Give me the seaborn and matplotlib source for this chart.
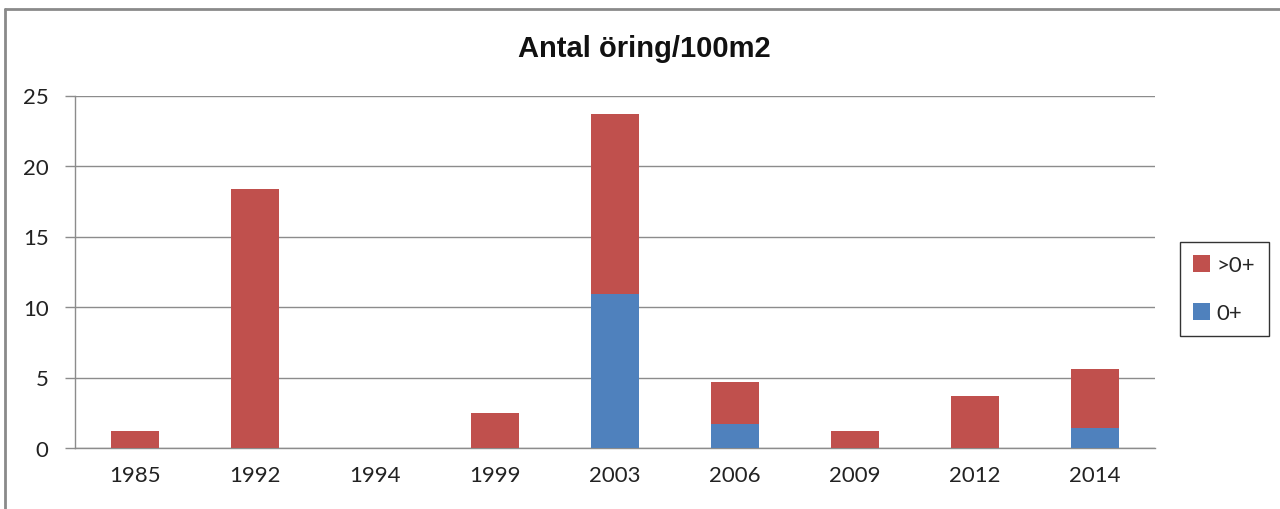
import matplotlib
matplotlib.use("Agg")
import matplotlib.pyplot as plt
import seaborn as sns
import pandas as pd
from matplotlib.patches import Patch
from matplotlib.lines import Line2D

years = ["1985", "1992", "1994", "1999", "2003", "2006", "2009", "2012", "2014"]
older = [1.2, 18.4, 0.0, 2.5, 12.77, 2.98, 1.2, 3.7, 4.18]   # >0+
young = [0.0, 0.0, 0.0, 0.0, 10.9, 1.68, 0.0, 0.0, 1.4]      # 0+
yticks = [0, 5, 10, 15, 20, 25]
title = "Antal öring/100m2"

RED = "#C0504D"
BLUE = "#4F81BD"
GRID = "#8C8C8C"

sns.set_theme(style="white")
plt.rcParams["font.family"] = ["Lato", "DejaVu Sans"]

df = pd.DataFrame({"year": years, "older": older, "young": young})
df["total"] = df["older"] + df["young"]

fig = plt.figure(figsize=(12.8, 5.1), dpi=100)
ax = fig.add_axes([75/1280, 1-449/510, (1155-75)/1280, (449-96.5)/510])

sns.barplot(data=df, x="year", y="total", color=RED, saturation=1, width=0.4, ax=ax, zorder=3)
sns.barplot(data=df, x="year", y="young", color=BLUE, saturation=1, width=0.4, ax=ax, zorder=4)
for p in ax.patches:
    p.set_edgecolor("none")

ax.set_ylim(0, 25)
ax.set_xlim(-0.5, len(years) - 0.5)
ax.set_yticks(yticks)
ax.set_yticklabels([str(v) for v in yticks], fontsize=16, color="#222222")
ax.set_xlabel("")
ax.set_ylabel("")
ax.yaxis.grid(True, color=GRID, linewidth=1.0, zorder=0)
ax.set_axisbelow(True)

for s in ["top", "right"]:
    ax.spines[s].set_visible(False)
for s in ["left", "bottom"]:
    ax.spines[s].set_color(GRID)
    ax.spines[s].set_linewidth(1.0)

ax.set_xticks(range(len(years)))
ax.set_xticklabels(years, fontsize=16, color="#222222")
ax.tick_params(axis="x", which="major", length=0, pad=12)
ax.set_xticks([i - 0.5 for i in range(len(years) + 1)], minor=True)
ax.tick_params(axis="x", which="minor", length=7, color=GRID, width=1.0, direction="out")
ax.tick_params(axis="y", which="major", length=7, color=GRID, width=1.0, direction="out", left=True, pad=12)

fig.text(644/1280, 1-49/510, title, ha="center", va="center", fontsize=21,
         fontweight="bold", family=["Liberation Sans", "DejaVu Sans"], color="#111111")

handles = [Patch(facecolor=RED, edgecolor="none"), Patch(facecolor=BLUE, edgecolor="none")]
leg = fig.legend(handles, [">0+", "0+"], loc="upper left",
                 bbox_to_anchor=(1180/1280, 1-243/510), frameon=True, fancybox=False,
                 fontsize=16, handlelength=0.75, handleheight=0.75, handletextpad=0.3,
                 labelspacing=1.25, borderpad=0.6, borderaxespad=0)
leg.get_frame().set_edgecolor("#000000")
leg.get_frame().set_linewidth(1.0)

# outer chart frame (partially cropped)
fig.add_artist(Line2D([5/1280, 5/1280], [0, 1-10/510], transform=fig.transFigure, color="#8A8A8A", linewidth=2))
fig.add_artist(Line2D([5/1280, 1], [1-10/510, 1-10/510], transform=fig.transFigure, color="#8A8A8A", linewidth=2))

fig.savefig("out.png", dpi=100)
